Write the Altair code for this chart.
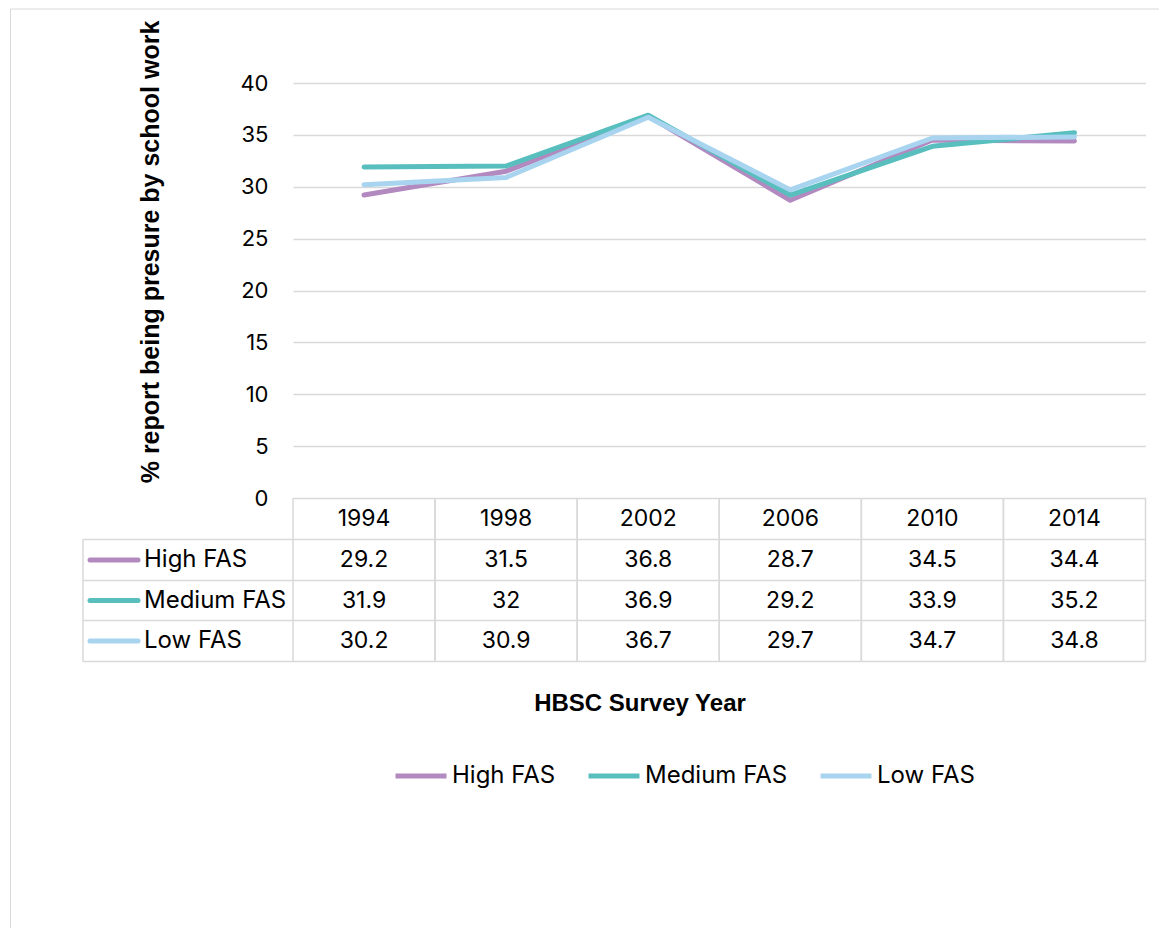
import altair as alt
import pandas as pd

years = ["1994", "1998", "2002", "2006", "2010", "2014"]
series = ["High FAS", "Medium FAS", "Low FAS"]
high_fas = [29.2, 31.5, 36.8, 28.7, 34.5, 34.4]
medium_fas = [31.9, 32, 36.9, 29.2, 33.9, 35.2]
low_fas = [30.2, 30.9, 36.7, 29.7, 34.7, 34.8]
colors = ["#B28AC0", "#58BEBE", "#A8D4F0"]
y_ticks = [0, 5, 10, 15, 20, 25, 30, 35, 40]

values = [high_fas, medium_fas, low_fas]
rows = []
for s, vals in zip(series, values):
    for y, v in zip(years, vals):
        rows.append({"year": y, "series": s, "value": v, "label": f"{v:g}"})
df = pd.DataFrame(rows)
years_df = pd.DataFrame({"year": years})

W, H = 852.5, 415
GRID = "#d9d9d9"
FONT = "Inter"
TFONT = "Liberation Sans"
TS = 23   # table number font size
LS = 24   # series label font size
row_lines = [H + 41.5, H + 82.5, H + 122.5, H + 163.5]
row_centers = [H + 21, H + 62, H + 102.5, H + 143]
LEFT_COL = -210

xscale = alt.Scale(type="band", paddingInner=0, paddingOuter=0, domain=years)

lines = alt.Chart(df).mark_line(strokeWidth=5, strokeCap="round", strokeJoin="round").encode(
    x=alt.X("year:O", scale=xscale, bandPosition=0.5,
            axis=alt.Axis(labels=False, ticks=False, domain=False, grid=False,
                          title="HBSC Survey Year", titleFont=TFONT, titleFontWeight="bold",
                          titleFontSize=24, titleColor="#000", titleX=346.5, titleY=205.5,
                          titleAlign="center", titleBaseline="middle")),
    y=alt.Y("value:Q", scale=alt.Scale(domain=[0, 40], nice=False, zero=True),
            axis=alt.Axis(values=y_ticks, grid=True, gridColor=GRID, gridWidth=1.5,
                          domain=False, ticks=False, labelPadding=25, labelFont=FONT,
                          labelFontSize=22, labelColor="#000",
                          title="% report being  presure by school work",
                          titleFont=TFONT, titleFontWeight="bold", titleFontSize=25,
                          titleColor="#000", titleX=-142.5, titleY=168.5,
                          titleAlign="center", titleBaseline="middle")),
    color=alt.Color("series:N", scale=alt.Scale(domain=series, range=colors),
                    legend=alt.Legend(orient="none", legendX=100, legendY=665,
                                      direction="horizontal", columns=3, title=None,
                                      symbolType="stroke", symbolSize=2601,
                                      symbolStrokeWidth=5, labelFont=FONT,
                                      labelFontSize=LS, labelColor="#000",
                                      columnPadding=22, labelOffset=3)),
    order=alt.Order("year:O"),
)

layers = [lines]
for yy in row_lines:
    layers.append(
        alt.Chart(years_df.head(1)).mark_rule(color=GRID, strokeWidth=1.5).encode(
            x=alt.value(LEFT_COL), x2=alt.value(W), y=alt.value(yy))
    )
vrules_start = alt.Chart(years_df).mark_rule(color=GRID, strokeWidth=1.5).encode(
    x=alt.X("year:O", scale=xscale, bandPosition=0), y=alt.value(H), y2=alt.value(row_lines[-1]))
vrules_end = alt.Chart(years_df).mark_rule(color=GRID, strokeWidth=1.5).encode(
    x=alt.X("year:O", scale=xscale, bandPosition=1), y=alt.value(H), y2=alt.value(row_lines[-1]))
left_rule = alt.Chart(years_df.head(1)).mark_rule(color=GRID, strokeWidth=1.5).encode(
    x=alt.value(LEFT_COL), y=alt.value(row_lines[0]), y2=alt.value(row_lines[-1]))
layers += [vrules_start, vrules_end, left_rule]

header = alt.Chart(years_df).mark_text(font=FONT, fontSize=TS, color="#000", baseline="middle").encode(
    x=alt.X("year:O", scale=xscale, bandPosition=0.5), y=alt.value(row_centers[0]), text="year:N")
layers.append(header)

for i, (s, c) in enumerate(zip(series, colors)):
    yc = row_centers[i + 1]
    sub = df[df["series"] == s]
    layers.append(
        alt.Chart(sub).mark_text(font=FONT, fontSize=TS, color="#000", baseline="middle").encode(
            x=alt.X("year:O", scale=xscale, bandPosition=0.5), y=alt.value(yc), text="label:N")
    )
    one = pd.DataFrame({"series": [s]})
    layers.append(
        alt.Chart(one).mark_rule(color=c, strokeWidth=5, strokeCap="round").encode(
            x=alt.value(-203), x2=alt.value(-155), y=alt.value(yc))
    )
    layers.append(
        alt.Chart(one).mark_text(font=FONT, fontSize=LS, color="#000", align="left",
                                 baseline="middle").encode(
            x=alt.value(-149), y=alt.value(yc), text="series:N")
    )

# Outer chart border (left and top)
border_df = pd.DataFrame({"b": [0]})
layers.append(alt.Chart(border_df).mark_rule(color=GRID, strokeWidth=1).encode(
    x=alt.value(-282.5), y=alt.value(-74), y2=alt.value(845)))
layers.append(alt.Chart(border_df).mark_rule(color=GRID, strokeWidth=1).encode(
    x=alt.value(-282.5), x2=alt.value(866), y=alt.value(-74)))

chart = alt.layer(*layers).properties(
    width=W, height=H,
    padding={"left": 2, "top": 0, "right": 0, "bottom": 0},
    background="white",
).configure_view(stroke=None)

chart.save("out.html", embed_options={"renderer": "svg", "actions": False})
